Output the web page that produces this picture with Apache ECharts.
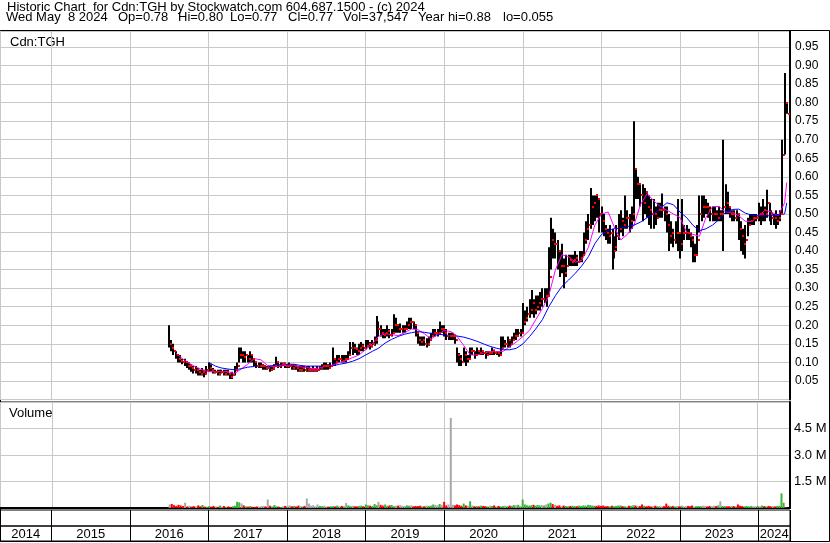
<!DOCTYPE html>
<html><head><meta charset="utf-8">
<script src="https://cdn.jsdelivr.net/npm/echarts@6/dist/echarts.min.js"></script>
<style>html,body{margin:0;padding:0;background:#fff}#c{width:830px;height:543px}</style>
</head><body><div id="c"></div>
<script>
// ---- DATA (3 bars per month, starting July 2016; day 1, 11, 21) ----
const high = [
 0.20,0.16,0.15, 0.13,0.12,0.12, 0.11,0.11,0.10, 0.10,0.095,0.09, 0.09,0.085,0.08, 0.085,0.08,0.09,
 0.10,0.095,0.085, 0.08,0.08,0.08, 0.08,0.08,0.08, 0.08,0.07,0.075, 0.09,0.10,0.14, 0.14,0.13,0.13, 0.12,0.13,0.12, 0.11,0.10,0.10, 0.10,0.095,0.09, 0.09,0.09,0.09, 0.095,0.115,0.10, 0.10,0.10,0.10,
 0.095,0.10,0.095, 0.095,0.09,0.09, 0.09,0.09,0.09, 0.09,0.09,0.085, 0.09,0.085,0.09, 0.09,0.095,0.10, 0.10,0.095,0.10, 0.14,0.11,0.12, 0.12,0.12,0.12, 0.12,0.13,0.155, 0.155,0.15,0.14, 0.15,0.155,0.15,
 0.16,0.16,0.155, 0.16,0.17,0.225, 0.21,0.20,0.19, 0.19,0.20,0.19, 0.19,0.23,0.22, 0.20,0.205,0.20, 0.20,0.21,0.22, 0.22,0.21,0.20, 0.18,0.17,0.17, 0.17,0.165,0.17, 0.18,0.19,0.19, 0.19,0.21,0.20,
 0.20,0.19,0.18, 0.18,0.18,0.175, 0.14,0.125,0.12, 0.14,0.13,0.12, 0.14,0.14,0.13, 0.14,0.13,0.14, 0.13,0.13,0.13, 0.13,0.14,0.135, 0.13,0.13,0.17, 0.17,0.16,0.17, 0.16,0.17,0.18, 0.19,0.19,0.19,
 0.26,0.24,0.25, 0.27,0.295,0.27, 0.28,0.28,0.29, 0.30,0.30,0.30, 0.41,0.49,0.46, 0.45,0.43,0.40, 0.42,0.38,0.39, 0.39,0.39,0.39, 0.40,0.39,0.40, 0.40,0.45,0.48, 0.50,0.57,0.55, 0.55,0.55,0.54,
 0.52,0.50,0.47, 0.46,0.47,0.46, 0.44,0.47,0.50, 0.51,0.49,0.55, 0.51,0.50,0.52, 0.75,0.62,0.60, 0.58,0.58,0.57, 0.56,0.55,0.54, 0.54,0.52,0.53, 0.53,0.555,0.52, 0.52,0.50,0.48, 0.46,0.48,0.54,
 0.45,0.54,0.47, 0.47,0.46,0.45, 0.44,0.42,0.47, 0.55,0.55,0.55, 0.54,0.53,0.52, 0.52,0.52,0.51, 0.52,0.51,0.70, 0.58,0.56,0.52, 0.51,0.51,0.51, 0.50,0.48,0.46, 0.47,0.49,0.50, 0.50,0.50,0.50,
 0.53,0.52,0.54, 0.52,0.565,0.53, 0.51,0.50,0.51, 0.50,0.51,0.70, 0.88,0.80
];
const low = [
 0.14,0.13,0.12, 0.11,0.10,0.10, 0.095,0.09,0.085, 0.08,0.075,0.07, 0.07,0.065,0.065, 0.065,0.06,0.07,
 0.075,0.075,0.07, 0.07,0.065,0.065, 0.07,0.065,0.065, 0.065,0.055,0.055, 0.065,0.08,0.10, 0.11,0.10,0.10, 0.10,0.10,0.10, 0.09,0.085,0.085, 0.085,0.08,0.08, 0.08,0.075,0.08, 0.08,0.09,0.085, 0.085,0.09,0.085,
 0.085,0.085,0.08, 0.08,0.08,0.075, 0.075,0.075,0.075, 0.075,0.075,0.075, 0.075,0.075,0.075, 0.08,0.08,0.08, 0.08,0.08,0.085, 0.09,0.09,0.10, 0.10,0.10,0.10, 0.10,0.11,0.12, 0.12,0.125,0.12, 0.12,0.13,0.13,
 0.135,0.14,0.135, 0.14,0.145,0.15, 0.17,0.17,0.165, 0.165,0.17,0.165, 0.17,0.18,0.18, 0.18,0.18,0.18, 0.18,0.19,0.19, 0.19,0.19,0.17, 0.15,0.145,0.145, 0.145,0.14,0.145, 0.16,0.17,0.17, 0.17,0.18,0.18,
 0.17,0.16,0.16, 0.16,0.16,0.15, 0.10,0.09,0.09, 0.10,0.09,0.10, 0.11,0.12,0.11, 0.12,0.12,0.12, 0.12,0.11,0.12, 0.12,0.12,0.12, 0.12,0.115,0.12, 0.14,0.14,0.14, 0.14,0.15,0.16, 0.16,0.17,0.17,
 0.18,0.20,0.21, 0.22,0.23,0.22, 0.23,0.24,0.24, 0.25,0.26,0.25, 0.28,0.35,0.38, 0.38,0.35,0.33, 0.34,0.30,0.33, 0.36,0.36,0.36, 0.36,0.36,0.37, 0.37,0.39,0.42, 0.43,0.46,0.47, 0.48,0.49,0.45,
 0.45,0.44,0.43, 0.42,0.42,0.35, 0.38,0.40,0.43, 0.45,0.44,0.46, 0.46,0.45,0.46, 0.48,0.54,0.54, 0.52,0.48,0.50, 0.49,0.47,0.46, 0.46,0.47,0.49, 0.49,0.49,0.48, 0.45,0.40,0.42, 0.41,0.42,0.40,
 0.38,0.40,0.43, 0.43,0.43,0.41, 0.37,0.37,0.39, 0.45,0.48,0.49, 0.50,0.49,0.48, 0.48,0.48,0.48, 0.48,0.48,0.40, 0.50,0.50,0.49, 0.48,0.48,0.48, 0.43,0.40,0.39, 0.38,0.44,0.47, 0.47,0.47,0.48,
 0.48,0.47,0.48, 0.48,0.49,0.48, 0.47,0.47,0.46, 0.47,0.48,0.50, 0.66,0.77
];
const close = [
 0.15,0.14,0.13, 0.12,0.11,0.105, 0.10,0.10,0.09, 0.09,0.085,0.08, 0.08,0.075,0.07, 0.075,0.07,0.08,
 0.085,0.08,0.075, 0.075,0.07,0.075, 0.075,0.07,0.075, 0.07,0.06,0.065, 0.08,0.09,0.12, 0.12,0.115,0.12, 0.11,0.12,0.11, 0.10,0.09,0.09, 0.09,0.09,0.085, 0.085,0.08,0.085, 0.09,0.10,0.09, 0.095,0.095,0.09,
 0.09,0.09,0.085, 0.09,0.085,0.08, 0.08,0.085,0.08, 0.08,0.08,0.08, 0.08,0.08,0.08, 0.085,0.09,0.09, 0.09,0.085,0.09, 0.11,0.10,0.11, 0.11,0.105,0.11, 0.11,0.12,0.14, 0.14,0.135,0.13, 0.14,0.145,0.14,
 0.145,0.15,0.145, 0.15,0.16,0.19, 0.19,0.18,0.175, 0.18,0.185,0.175, 0.18,0.20,0.20, 0.19,0.19,0.19, 0.19,0.20,0.21, 0.21,0.20,0.18, 0.16,0.155,0.16, 0.15,0.15,0.16, 0.17,0.18,0.18, 0.18,0.19,0.19,
 0.18,0.17,0.17, 0.17,0.17,0.16, 0.12,0.11,0.10, 0.12,0.11,0.11, 0.13,0.13,0.12, 0.13,0.125,0.13, 0.125,0.12,0.125, 0.125,0.13,0.125, 0.125,0.12,0.14, 0.15,0.15,0.16, 0.15,0.16,0.17, 0.17,0.18,0.18,
 0.21,0.22,0.23, 0.24,0.26,0.24, 0.25,0.26,0.27, 0.27,0.28,0.28, 0.33,0.43,0.42, 0.42,0.40,0.36, 0.36,0.34,0.36, 0.375,0.37,0.375, 0.38,0.37,0.38, 0.39,0.43,0.46, 0.47,0.52,0.53, 0.55,0.54,0.50,
 0.48,0.46,0.45, 0.44,0.45,0.40, 0.41,0.44,0.46, 0.48,0.47,0.49, 0.49,0.48,0.50, 0.62,0.58,0.58, 0.55,0.53,0.56, 0.52,0.51,0.50, 0.50,0.49,0.51, 0.51,0.51,0.50, 0.47,0.44,0.45, 0.43,0.45,0.45,
 0.42,0.45,0.45, 0.45,0.44,0.43, 0.39,0.39,0.43, 0.50,0.52,0.52, 0.52,0.51,0.50, 0.50,0.50,0.49, 0.50,0.50,0.52, 0.53,0.52,0.50, 0.50,0.49,0.50, 0.46,0.44,0.42, 0.43,0.47,0.48, 0.49,0.49,0.49,
 0.50,0.50,0.51, 0.50,0.53,0.50, 0.49,0.49,0.48, 0.49,0.50,0.66, 0.80,0.77
];
// volume, thousands of shares
const volumeK = [
 200,230,160, 120,180,150, 110,300,90, 130,80,110, 90,150,100, 170,80,70,
 110,80,120, 90,70,140, 80,110,70, 90,60,100, 130,350,320, 260,150,90, 80,110,70, 60,90,80, 100,120,90, 480,130,90, 170,100,80, 60,90,120,
 130,150,100, 120,90,140, 110,80,120, 540,250,130, 160,90,200, 120,100,130, 90,80,100, 110,90,140, 100,120,90, 280,150,110, 130,100,90, 120,140,100,
 200,150,130, 120,230,160, 350,180,140, 200,120,150, 170,110,130, 140,160,120, 110,150,130, 150,100,120, 110,130,90, 100,140,120, 130,200,180, 150,230,180,
 350,150,200, 5100,180,150, 200,160,130, 250,150,130, 380,140,100, 110,90,130, 120,100,90, 130,110,150, 100,120,90, 110,130,100, 140,120,160, 150,180,120,
 480,200,150, 140,160,180, 130,170,150, 160,140,200, 250,300,220, 180,130,150, 120,140,110, 100,120,130, 110,100,140, 120,150,130, 180,160,140, 130,120,150,
 120,140,100, 110,90,130, 100,120,140, 150,110,100, 90,130,120, 160,140,120, 110,200,130, 100,120,90, 110,130,100, 120,90,110, 250,130,100, 120,90,110,
 100,130,90, 110,120,100, 140,90,110, 120,100,130, 110,90,120, 100,130,110, 150,380,120, 110,90,100, 120,110,90, 200,130,110, 100,120,90, 110,100,90,
 120,100,140, 110,90,120, 100,110,90, 120,130,830, 300,40
];
// moving averages, one value per month start (Jul 2016 .. May 2024) + last bar
const maShort = [
 null,0.125,0.11,0.098,0.088,0.08,
 0.075,0.075,0.075,0.075,0.07,0.082,0.095,0.11,0.107,0.092,0.088,0.09,
 0.092,0.093,0.088,0.086,0.083,0.085,0.09,0.093,0.10,0.105,0.113,0.12,
 0.135,0.15,0.17,0.177,0.175,0.172,0.18,0.19,0.188,0.177,0.163,0.175,
 0.186,0.183,0.17,0.145,0.12,0.12,0.125,0.129,0.129,0.13,0.143,0.155,
 0.17,0.187,0.215,0.245,0.28,0.35,0.39,0.385,0.37,0.375,0.41,0.47,
 0.50,0.505,0.465,0.43,0.445,0.47,0.525,0.555,0.535,0.52,0.51,0.50,
 0.49,0.45,0.445,0.44,0.49,0.52,0.52,0.505,0.505,0.495,0.48,0.48,
 0.495,0.51,0.505,0.495,0.53, 0.585
];
const maLong = [
 null,null,null,null,null,null,
 0.10,0.09,0.085,0.082,0.08,0.083,0.087,0.089,0.09,0.089,0.092,0.094,
 0.095,0.095,0.092,0.09,0.09,0.09,0.09,0.091,0.095,0.098,0.103,0.11,
 0.12,0.13,0.138,0.152,0.162,0.17,0.176,0.18,0.183,0.181,0.178,0.176,
 0.174,0.172,0.171,0.168,0.163,0.157,0.15,0.143,0.138,0.134,0.134,0.138,
 0.15,0.17,0.19,0.215,0.25,0.28,0.305,0.322,0.34,0.36,0.385,0.42,
 0.445,0.455,0.46,0.462,0.466,0.47,0.478,0.49,0.50,0.515,0.53,0.525,
 0.505,0.49,0.47,0.455,0.46,0.47,0.485,0.505,0.512,0.513,0.502,0.497,
 0.495,0.495,0.495,0.497,0.50, 0.53
];
const yearLabels = ['2014','2015','2016','2017','2018','2019','2020','2021','2022','2023','2024'];
const headerLine1 = 'Historic Chart  for Cdn:TGH by Stockwatch.com 604.687.1500 - (c) 2024';
const headerLine2Parts = ['Wed May  8 2024', 'Op=0.78', 'Hi=0.80', 'Lo=0.77', 'Cl=0.77', 'Vol=37,547', 'Year hi=0.88', 'lo=0.055'];

// ---- BUILD ----
const FONT = 'Arial, "Liberation Sans", sans-serif';
const xMin = new Date(2014, 4, 7).getTime();
const xMax = new Date(2024, 4, 26).getTime();
function barDate(i){ return new Date(2016, 6 + Math.floor(i/3), 1 + 10*(i%3)).getTime(); }
const nBars = close.length;
const ohlc = [], vols = [];
for (let i=0;i<nBars;i++){
  const t = barDate(i);
  ohlc.push([t, high[i], low[i], close[i]]);
  let col = '#a8a8a8';
  if (i>0 && close[i] > close[i-1]) col = '#3cb43c';
  else if (i>0 && close[i] < close[i-1]) col = '#ff0000';
  vols.push({value:[t, volumeK[i]*1000], itemStyle:{color: col}});
}
const maDates = [];
for (let m=0;m<maShort.length-1;m++) maDates.push(new Date(2016, 6+m, 1).getTime());
maDates.push(barDate(nBars-1));
const shortData = maShort.map((v,i)=>[maDates[i], v]);
const longData = maLong.map((v,i)=>[maDates[i], v]);

const grid = '#c8c8c8';
const chart = echarts.init(document.getElementById('c'), null, {renderer:'canvas'});
const timeAxisBase = {type:'time', min:xMin, max:xMax, splitNumber:10,
  axisLabel:{show:false}, axisTick:{show:false}, axisLine:{show:false}};
const headerX = [6, 118, 178, 230, 288, 343, 418, 503];
const graphics = [
  {type:'rect', shape:{x:0.5, y:30.5, width:829, height:511}, style:{fill:null, stroke:'#000', lineWidth:1}, silent:true},
  {type:'text', x:7, y:7, style:{text:headerLine1, font:'13px '+FONT, fill:'#000', textVerticalAlign:'middle'}},
  {type:'text', x:10, y:42, style:{text:'Cdn:TGH', font:'13px '+FONT, fill:'#000', textVerticalAlign:'middle'}},
  {type:'text', x:9, y:413, style:{text:'Volume', font:'13px '+FONT, fill:'#000', textVerticalAlign:'middle'}}
];
headerLine2Parts.forEach((t,i)=>graphics.push(
  {type:'text', x:headerX[i], y:17.5, style:{text:t, font:'13px '+FONT, fill:'#000', textVerticalAlign:'middle'}}));

chart.setOption({
  animation:false,
  backgroundColor:'#fff',
  grid:[
    {left:0, right:40, top:31, height:368.5, show:true, borderColor:'#000', borderWidth:1},
    {left:0, right:40, top:402, height:106, show:true, borderColor:'#000', borderWidth:1},
    {left:0, right:40, top:510, height:16, show:true, borderColor:'#000', borderWidth:1},
    {left:0, right:40, top:526, height:15, show:true, borderColor:'#000', borderWidth:1}
  ],
  xAxis:[
    Object.assign({}, timeAxisBase, {gridIndex:0, splitLine:{show:true, lineStyle:{color:grid}}}),
    Object.assign({}, timeAxisBase, {gridIndex:1, splitLine:{show:true, lineStyle:{color:grid}},
      axisLine:{show:true, onZero:false, lineStyle:{color:'#000', width:2}}}),
    Object.assign({}, timeAxisBase, {gridIndex:2, splitLine:{show:true, lineStyle:{color:'#000'}}}),
    Object.assign({}, timeAxisBase, {gridIndex:3, splitLine:{show:true, lineStyle:{color:'#000'}}})
  ],
  yAxis:[
    {gridIndex:0, type:'value', position:'right', min:0, max:0.993, interval:0.05,
     axisLine:{show:true, lineStyle:{color:'#000', width:2}}, axisTick:{show:false},
     splitLine:{show:true, lineStyle:{color:grid}},
     axisLabel:{show:true, showMaxLabel:false, margin:5, color:'#000', fontFamily:FONT, fontSize:12,
       formatter:v=> (v<0.01 || Math.abs(v/0.05 - Math.round(v/0.05))>1e-6) ? '' : v.toFixed(2)}},
    {gridIndex:1, type:'value', position:'right', min:0, max:6e6, interval:1.5e6,
     axisLine:{show:true, lineStyle:{color:'#000', width:2}}, axisTick:{show:false},
     splitLine:{show:true, lineStyle:{color:grid}},
     axisLabel:{show:true, showMaxLabel:false, margin:4, color:'#000', fontFamily:FONT, fontSize:13,
       formatter:v=> (v<1 || v>5e6) ? '' : (v/1e6).toFixed(1)+' M'}},
    {gridIndex:2, type:'value', min:0, max:1, show:false},
    {gridIndex:3, type:'value', min:0, max:1, show:false}
  ],
  series:[
    {type:'custom', xAxisIndex:0, yAxisIndex:0, clip:true, data:ohlc, encode:{x:0, y:[1,2]}, z:2,
     renderItem:function(params, api){
       const t = api.value(0);
       const h = api.coord([t, api.value(1)]);
       const l = api.coord([t, api.value(2)]);
       const x = Math.round(h[0]);
       return {type:'rect', shape:{x:x-1, y:h[1], width:2, height:Math.max(1, l[1]-h[1])}, style:{fill:'#000'}};
     }},
    {type:'line', xAxisIndex:0, yAxisIndex:0, data:shortData, showSymbol:false, connectNulls:false,
     lineStyle:{color:'#ff00ff', width:1}, itemStyle:{color:'#ff00ff'}, z:3},
    {type:'line', xAxisIndex:0, yAxisIndex:0, data:longData, showSymbol:false, connectNulls:false,
     lineStyle:{color:'#0000ff', width:1}, itemStyle:{color:'#0000ff'}, z:4},
    {type:'custom', xAxisIndex:0, yAxisIndex:0, clip:true, data:ohlc, encode:{x:0, y:3}, z:5,
     renderItem:function(params, api){
       const t = api.value(0);
       const c = api.coord([t, api.value(3)]);
       const x = Math.round(c[0]);
       return {type:'rect', shape:{x:x+1, y:Math.round(c[1])-1, width:2, height:2}, style:{fill:'#ff0000'}};
     }},
    {type:'bar', xAxisIndex:1, yAxisIndex:1, data:vols, barWidth:2, clip:true},
    {type:'custom', xAxisIndex:3, yAxisIndex:3, data:yearLabels.map((y,i)=>[i]),
     renderItem:function(params, api){
       const yr = +yearLabels[params.dataIndex];
       const s = Math.max(new Date(yr,0,1).getTime(), xMin);
       const e = Math.min(new Date(yr+1,0,1).getTime(), xMax);
       const p1 = api.coord([s, 0.5]), p2 = api.coord([e, 0.5]);
       return {type:'text', x:(p1[0]+p2[0])/2, y:p1[1]+1,
         style:{text:yearLabels[params.dataIndex], textAlign:'center', textVerticalAlign:'middle',
                font:'13px '+FONT, fill:'#000'}};
     }}
  ],
  graphic:graphics
});
</script></body></html>
